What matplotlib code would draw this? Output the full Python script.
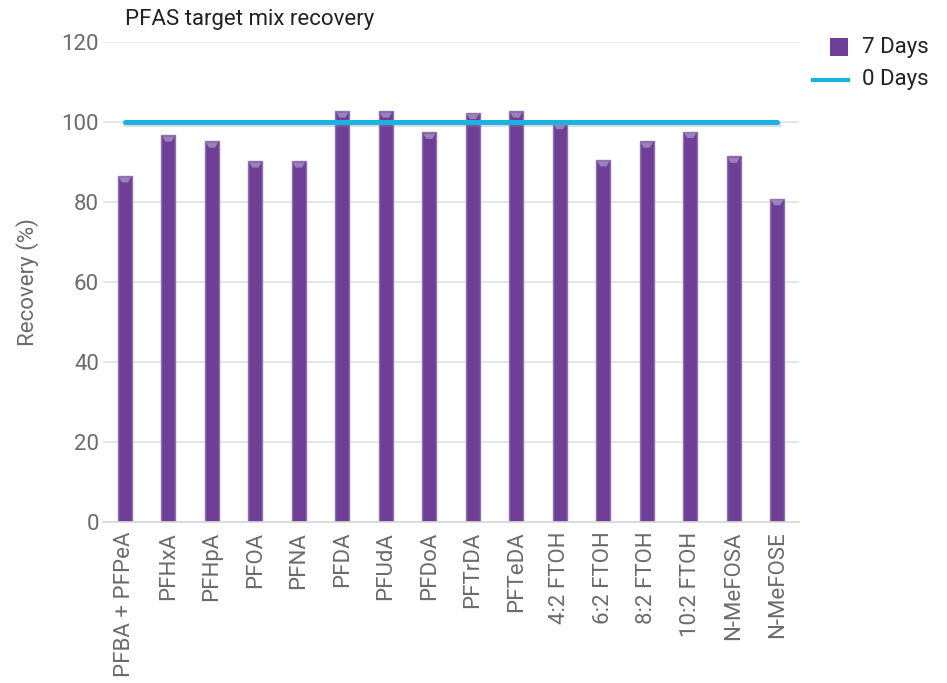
import matplotlib
matplotlib.use("Agg")
import matplotlib.pyplot as plt
import numpy as np
from matplotlib.patches import Rectangle
from matplotlib.lines import Line2D

categories = ["PFBA + PFPeA", "PFHxA", "PFHpA", "PFOA", "PFNA", "PFDA", "PFUdA",
              "PFDoA", "PFTrDA", "PFTeDA", "4:2 FTOH", "6:2 FTOH", "8:2 FTOH",
              "10:2 FTOH", "N-MeFOSA", "N-MeFOSE"]
days7 = [86.5, 96.7, 95.2, 90.2, 90.2, 102.7, 102.7, 97.4, 102.3, 102.7,
         99.8, 90.5, 95.2, 97.6, 91.4, 80.8]
days0 = [100] * len(categories)
yticks = [0, 20, 40, 60, 80, 100, 120]

plt.rcParams['font.family'] = ['Roboto', 'DejaVu Sans']
W, H = 947, 683
fig = plt.figure(figsize=(W / 100, H / 100), dpi=100)
ax = fig.add_axes([0.109, 0.2357, 0.7347, 0.7028])

x = np.arange(len(categories))
bar_color = "#6f3f98"
bw = 0.32
ax.bar(x, days7, width=bw, color=bar_color, edgecolor="#8e74a8", linewidth=1.0,
       zorder=2)
# bevel highlight on top of each bar
for xi, v in zip(x, days7):
    hx = [xi - bw / 2 + 0.02, xi + bw / 2 - 0.02, xi + bw / 2 - 0.09, xi - bw / 2 + 0.09]
    hy = [v - 0.3, v - 0.3, v - 1.6, v - 1.6]
    ax.fill(hx, hy, color="#9c80b9", linewidth=0, zorder=3)
shadow = ax.transData + matplotlib.transforms.ScaledTranslation(1 / 100, -2 / 100, fig.dpi_scale_trans)
ax.plot(x, days0, color="#8a8f94", linewidth=3.6, alpha=0.3, zorder=3, transform=shadow)
ax.plot(x, days0, color="#1bb1e3", linewidth=3.6, solid_capstyle="round", zorder=4)

ax.set_xlim(-0.5, len(categories) - 0.5)
ax.set_ylim(0, 120)
ax.set_yticks(yticks)
ax.set_xticks(x)
ax.set_xticklabels(categories, rotation=90)
ax.tick_params(axis="both", length=0, labelsize=16, colors="#6b6b6b")
ax.tick_params(axis="y", pad=3)
ax.tick_params(axis="x", pad=7)
ax.grid(axis="y", color="#e3e3e3", linewidth=1.2, zorder=0)
ax.set_axisbelow(True)
for s in ["top", "right", "left"]:
    ax.spines[s].set_visible(False)
ax.spines["bottom"].set_color("#d8d8d8")
ax.spines["bottom"].set_linewidth(1.2)

ax.set_ylabel("Recovery (%)", fontsize=16, color="#6b6b6b", labelpad=16)
fig.text(125 / W, 1 - 19 / H, "PFAS target mix recovery", fontsize=16,
         color="#222222", va="center", ha="left")

# legend (drawn in figure pixel coordinates)
fig.patches.append(Rectangle((830 / W, 1 - 56 / H), 18 / W, 18 / H,
                             transform=fig.transFigure, facecolor=bar_color,
                             edgecolor="none"))
fig.lines.append(Line2D([813 / W, 848 / W], [1 - 80 / H, 1 - 80 / H],
                        transform=fig.transFigure, color="#1bb1e3", linewidth=3))
fig.text(862 / W, 1 - 47 / H, "7 Days", fontsize=16, color="#222222", va="center")
fig.text(862 / W, 1 - 80 / H, "0 Days", fontsize=16, color="#222222", va="center")

fig.savefig("out.png", dpi=100)
